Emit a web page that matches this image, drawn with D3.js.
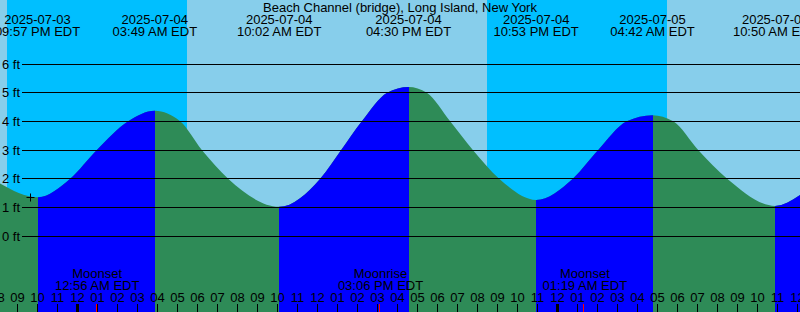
<!DOCTYPE html>
<html>
<head>
<meta charset="utf-8">
<script src="https://cdn.jsdelivr.net/npm/d3@7"></script>
<style>
  body { margin: 0; background: #fff; }
  svg { display: block; }
  text { font-family: "Liberation Sans", Arial, sans-serif; font-size: 13px; fill: #000; }
</style>
</head>
<body>
<svg id="graph" width="800" height="312" viewBox="0 0 800 312"></svg>
<script>
// station name shown at the top
var title = "Beach Channel (bridge), Long Island, New York";

// high / low tide events (local time, EDT) and heights in ft
var tideTimes = ["2025-07-03 21:57", "2025-07-04 03:49", "2025-07-04 10:02",
                 "2025-07-04 16:30", "2025-07-04 22:53", "2025-07-05 04:42",
                 "2025-07-05 10:50"];
var tideHeights = [1.35, 4.37, 1.02, 5.20, 1.26, 4.21, 1.05];

// extra points
var curveTimes = ["2025-07-03 20:00", "2025-07-03 23:35", "2025-07-04 00:55",
                  "2025-07-04 02:29", "2025-07-04 05:05", "2025-07-04 06:10",
                  "2025-07-04 07:29", "2025-07-04 12:05", "2025-07-04 13:08",
                  "2025-07-04 14:10", "2025-07-04 15:26", "2025-07-04 17:25",
                  "2025-07-04 18:35", "2025-07-04 19:43", "2025-07-04 21:02",
                  "2025-07-05 00:43", "2025-07-05 01:59", "2025-07-05 03:25",
                  "2025-07-05 05:44", "2025-07-05 06:59", "2025-07-05 08:26",
                  "2025-07-05 12:10"];
var curveHeights = [1.86, 2.0, 3.0, 4.0, 4.0, 3.0, 2.0, 2.0, 3.0, 4.0, 5.0, 5.0,
                    4.0, 3.0, 2.0, 2.0, 3.0, 4.0, 4.0, 3.0, 2.0, 1.47];

// night: sunset -> sunrise
var sunsets  = ["2025-07-03 20:25", "2025-07-04 20:25"];
var sunrises = ["2025-07-04 05:25", "2025-07-05 05:25"];

// moon events
var moonNames = ["Moonset", "Moonrise", "Moonset"];
var moonTimes = ["2025-07-04 00:56", "2025-07-04 15:06", "2025-07-05 01:19"];

// current time mark
var nowTime = "2025-07-03 21:35";
var nowHeight = 1.37;

var footTicks = [0, 1, 2, 3, 4, 5, 6];

var parse = d3.timeParse("%Y-%m-%d %H:%M");
var svg = d3.select("#graph"),
    width = 800,
    height = 312;

var colors = {day: "#87ceeb", night: "#00bfff", rise: "#0000ff", fall: "#2e8b57"};

// 20 px per hour
var x = d3.scaleTime()
    .domain([parse("2025-07-04 00:00"), parse("2025-07-05 00:00")])
    .range([78.5, 558.5]);
var y = d3.scaleLinear().domain([0, 6]).range([236, 64]);

var tMin = x.invert(0), tMax = x.invert(width);

// build the curve from events + readings, sorted by time
var pts = tideTimes.map(function(t, i) { return {t: parse(t), h: tideHeights[i]}; })
    .concat(curveTimes.map(function(t, i) { return {t: parse(t), h: curveHeights[i]}; }))
    .sort(function(a, b) { return a.t - b.t; });

// background: day then night blocks
svg.append("rect").attr("width", width).attr("height", height).attr("fill", colors.day);
svg.append("g").selectAll("rect").data(sunsets).enter().append("rect")
    .attr("x", function(d) { return Math.round(x(parse(d))); })
    .attr("y", 0)
    .attr("width", function(d, i) { return Math.round(x(parse(sunrises[i]))) - Math.round(x(parse(d))); })
    .attr("height", height)
    .attr("fill", colors.night);

// rising intervals (from a low to the next high)
var rising = [];
tideTimes.forEach(function(t, i) {
    var next = i + 1 < tideTimes.length ? tideHeights[i + 1] : null;
    var prev = i > 0 ? tideHeights[i - 1] : null;
    var isLow = next !== null ? tideHeights[i] < next : tideHeights[i] < prev;
    if (isLow) {
        rising.push([Math.round(x(parse(t))),
                     next !== null ? Math.round(x(parse(tideTimes[i + 1]))) : width]);
    }
});

svg.append("defs").append("clipPath").attr("id", "riseClip")
    .selectAll("rect").data(rising).enter().append("rect")
    .attr("x", function(d) { return d[0]; })
    .attr("y", 0)
    .attr("width", function(d) { return d[1] - d[0]; })
    .attr("height", height);

var area = d3.area().curve(d3.curveMonotoneX)
    .x(function(d) { return x(d.t); })
    .y0(height)
    .y1(function(d) { return y(d.h); });

svg.append("path").datum(pts).attr("d", area).attr("fill", colors.fall);
svg.append("path").datum(pts).attr("d", area).attr("fill", colors.rise)
    .attr("clip-path", "url(#riseClip)");

// foot grid lines + labels
var grid = svg.append("g").attr("id", "grid");
grid.selectAll("line").data(footTicks).enter().append("line")
    .attr("x1", 22).attr("x2", width)
    .attr("y1", function(d) { return Math.floor(y(d)) + 0.5; })
    .attr("y2", function(d) { return Math.floor(y(d)) + 0.5; })
    .attr("stroke", "#000").attr("stroke-width", 1);
grid.selectAll("text").data(footTicks).enter().append("text")
    .attr("x", 20).attr("y", function(d) { return Math.floor(y(d)) + 4.5; })
    .attr("text-anchor", "end")
    .text(function(d) { return d + " ft"; });

// title and tide event labels
svg.append("text").attr("x", width / 2).attr("y", 12).attr("text-anchor", "middle").text(title);
var fmtDate = d3.timeFormat("%Y-%m-%d"),
    fmtTime = d3.timeFormat("%I:%M %p EDT");
var ev = svg.append("g").attr("id", "events").selectAll("g").data(tideTimes).enter().append("g")
    .attr("transform", function(d) { return "translate(" + x(parse(d)) + ",0)"; });
ev.append("text").attr("y", 24).attr("text-anchor", "middle")
    .text(function(d) { return fmtDate(parse(d)); });
ev.append("text").attr("y", 36).attr("text-anchor", "middle")
    .text(function(d) { return fmtTime(parse(d)); });

// moon labels
var moon = svg.append("g").attr("id", "moon").selectAll("g").data(moonTimes).enter().append("g")
    .attr("transform", function(d) { return "translate(" + x(parse(d)) + ",0)"; });
moon.append("text").attr("y", 278).attr("text-anchor", "middle")
    .text(function(d, i) { return moonNames[i]; });
moon.append("text").attr("y", 290).attr("text-anchor", "middle")
    .text(function(d) { return fmtTime(parse(d)); });

// hour ticks along the bottom
var hours = d3.timeHour.range(d3.timeHour.floor(tMin), d3.timeHour.offset(tMax, 1));
var xAxis = svg.append("g").attr("id", "x_axis");
xAxis.selectAll("line.hour").data(hours).enter().append("line")
    .attr("class", "hour")
    .attr("x1", function(d) { return Math.floor(x(d)) - 0.5; })
    .attr("x2", function(d) { return Math.floor(x(d)) - 0.5; })
    .attr("y1", 304).attr("y2", height)
    .attr("stroke", "#000")
    .attr("stroke-width", function(d) { return d.getHours() === 0 ? 3 : 1; });
xAxis.selectAll("text").data(hours).enter().append("text")
    .attr("x", function(d) { return Math.floor(x(d)) - 0.5; })
    .attr("y", 302)
    .attr("text-anchor", "middle")
    .text(d3.timeFormat("%I"));
xAxis.selectAll("line.moon").data(moonTimes).enter().append("line")
    .attr("class", "moon")
    .attr("x1", function(d) { return Math.floor(x(parse(d))) - 0.5; })
    .attr("x2", function(d) { return Math.floor(x(parse(d))) - 0.5; })
    .attr("y1", 304).attr("y2", height)
    .attr("stroke", "#ff0000").attr("stroke-width", 1);

// "+" for the current time
var nx = Math.round(x(parse(nowTime))) + 0.5, ny = Math.round(y(nowHeight)) + 0.5;
svg.append("path")
    .attr("d", "M" + (nx - 4) + "," + ny + "H" + (nx + 4) + "M" + nx + "," + (ny - 4) + "V" + (ny + 4))
    .attr("stroke", "#000").attr("stroke-width", 1).attr("fill", "none");
</script>
</body>
</html>
